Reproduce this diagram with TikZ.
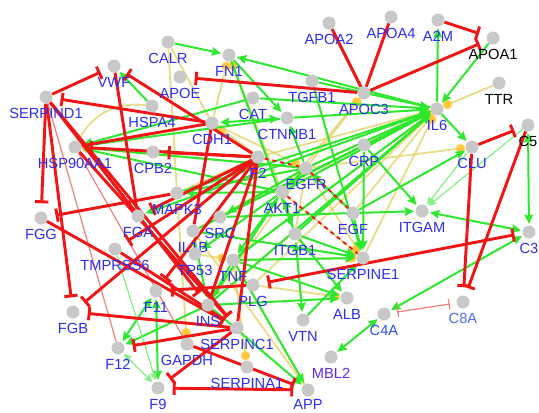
\documentclass[tikz,border=0pt]{standalone}
\usepackage{fontspec}
\setmainfont{Liberation Sans}
\usetikzlibrary{arrows.meta}
\definecolor{nodegray}{RGB}{200,200,200}
\definecolor{labblue}{RGB}{45,45,238}
\definecolor{c8ablue}{RGB}{75,110,245}
\definecolor{c4ablue}{RGB}{40,80,232}
\definecolor{mblviolet}{RGB}{95,40,228}
\definecolor{actgreen}{RGB}{45,232,45}
\definecolor{lightgreen}{RGB}{130,240,130}
\definecolor{inhred}{RGB}{240,22,22}
\definecolor{lightred}{RGB}{245,125,125}
\definecolor{bindyellow}{RGB}{226,210,100}
\definecolor{dotyellow}{RGB}{255,200,60}
\pgfdeclarelayer{edges}
\pgfsetlayers{edges,main}
\tikzset{
  gene/.style={circle, fill=nodegray, minimum size=9.75pt, inner sep=0pt},
  lab/.style={font=\fontsize{11}{13}\selectfont, text=labblue, inner sep=0pt},
  act/.style={draw=actgreen, line width=1.5pt, -{Stealth[length=7pt,width=6.5pt,inset=1pt,color=actgreen]}, shorten >=1pt},
  act2/.style={act, {Stealth[length=7pt,width=6.5pt,inset=1pt,color=actgreen]}-{Stealth[length=7pt,width=6.5pt,inset=1pt,color=actgreen]}, shorten <=1pt},
  lact/.style={draw=lightgreen, line width=0.9pt, -{Stealth[length=6pt,width=5.5pt,inset=1pt,color=lightgreen]}, shorten >=1pt},
  lact2/.style={lact, {Stealth[length=6pt,width=5.5pt,inset=1pt,color=lightgreen]}-{Stealth[length=6pt,width=5.5pt,inset=1pt,color=lightgreen]}, shorten <=1pt},
  inh/.style={draw=inhred, line width=2.2pt, -{Bar[width=10pt]}, shorten >=6pt},
  inh2/.style={inh, {Bar[width=10pt]}-{Bar[width=10pt]}, shorten <=6pt},
  rline/.style={draw=inhred, line width=2.2pt},
  linh2/.style={draw=lightred, line width=0.9pt, {Bar[width=8pt]}-{Bar[width=8pt]}, shorten >=5pt, shorten <=5pt},
  lrline/.style={draw=lightred, line width=0.9pt},
  rdash/.style={draw=inhred, line width=1.4pt, dashed},
  bind/.style={draw=bindyellow, line width=1.4pt, draw opacity=0.75, -{Circle[length=7pt,color=dotyellow]}},
  yline/.style={draw=bindyellow, line width=1.4pt, draw opacity=0.75}
}
\begin{document}
\begin{tikzpicture}[x=0.75pt, y=-0.75pt, label distance=3.4pt]
\useasboundingbox (0,0) rectangle (539,412);
% genes
\node [gene, label={[lab]below:CALR}](CALR) at (168,42){};
\node [gene, label={[lab]below:FN1}](FN1) at (229,55){};
\node [gene, label={[lab]below:VWF}](VWF) at (114,66){};
\node [gene, label={[lab]below:APOE}](APOE) at (180,77){};
\node [gene, label={[lab]below:SERPIND1}](SERPIND1) at (46,97){};
\node [gene, label={[lab]below:HSPA4}](HSPA4) at (152,106){};
\node [gene, label={[lab]below:CAT}](CAT) at (253,98){};
\node [gene, label={[lab]below:CDH1}](CDH1) at (212,123){};
\node [gene, label={[lab]below:HSP90AA1}](HSP90AA1) at (75,147){};
\node [gene, label={[lab]below:CPB2}](CPB2) at (153,152){};
\node [gene, label={[lab]below:F2}](F2) at (258,157){};
\node [gene, label={[lab]below:APOA2}](APOA2) at (329,23){};
\node [gene, label={[lab]below:APOA4}](APOA4) at (391,17){};
\node [gene, label={[lab]below:A2M}](A2M) at (438,20){};
\node [gene, label={[lab, text=black]below:APOA1}](APOA1) at (493,38){};
\node [gene, label={[lab]below:TGFB1}](TGFB1) at (312,81){};
\node [gene, label={[lab]below:APOC3}](APOC3) at (364,93){};
\node [gene, label={[lab]below:IL6}](IL6) at (437,109){};
\node [gene, label={[lab, text=black]below:TTR}](TTR) at (499,83){};
\node [gene, label={[lab, text=black]below:C5}](C5) at (528,125){};
\node [gene, label={[lab]below:CLU}](CLU) at (472,147){};
\node [gene, label={[lab]below:CTNNB1}](CTNNB1) at (287,118){};
\node [gene, label={[lab]below:CRP}](CRP) at (364,145){};
\node [gene, label={[lab]below:EGFR}](EGFR) at (306,168){};
\node [gene, label={[lab]below:MAPK3}](MAPK3) at (177,193){};
\node [gene, label={[lab]below:AKT1}](AKT1) at (282,192){};
\node [gene, label={[lab]below:SRC}](SRC) at (220,217){};
\node [gene, label={[lab]below:ITGB1}](ITGB1) at (295,234){};
\node [gene, label={[lab]below:FGA}](FGA) at (138,216){};
\node [gene, label={[lab]below:IL1B}](IL1B) at (193,231){};
\node [gene, label={[lab]below:FGG}](FGG) at (41,218){};
\node [gene, label={[lab]below:TMPRSS6}](TMPRSS6) at (115,249){};
\node [gene, label={[lab]below:TP53}](TP53) at (195,254){};
\node [gene, label={[lab]below:TNF}](TNF) at (233,260){};
\node [gene, label={[lab]below:PLG}](PLG) at (253,285){};
\node [gene, label={[lab]below:INS}](INS) at (208,305){};
\node [gene, label={[lab]below:F11}](F11) at (156,291){};
\node [gene, label={[lab]below:FGB}](FGB) at (73,312){};
\node [gene, label={[lab]below:F12}](F12) at (118,348){};
\node [gene, label={[lab]below:GAPDH}](GAPDH) at (187,344){};
\node [gene, label={[lab]below:F9}](F9) at (158,388){};
\node [gene, label={[lab]below:SERPINC1}](SERPINC1) at (237,328){};
\node [gene, label={[lab]below:SERPINA1}](SERPINA1) at (247,367){};
\node [gene, label={[lab]below:VTN}](VTN) at (303,320){};
\node [gene, label={[lab]below:ALB}](ALB) at (347,298){};
\node [gene, label={[lab, label distance=1.6pt]below:APP}](APP) at (308,390){};
\node [gene, label={[lab, text=mblviolet]below:MBL2}](MBL2) at (331,357){};
\node [gene, label={[lab, text=c4ablue]below:C4A}](C4A) at (384,314){};
\node [gene, label={[lab, text=c8ablue]below:C8A}](C8A) at (463,302){};
\node [gene, label={[lab]below:C3}](C3) at (529,232){};
\node [gene, label={[lab]below:ITGAM}](ITGAM) at (422,211){};
\node [gene, label={[lab]below:EGF}](EGF) at (353,213){};
\node [gene, label={[lab]below:SERPINE1}](SERPINE1) at (363,258){};
\begin{pgfonlayer}{edges}
% binding
\draw [bind](TTR) edge (IL6);
\draw [bind](EGFR) edge (CLU);
\draw [bind](EGFR) edge (IL6);
\draw [bind](AKT1) edge (IL6);
\draw [bind](ITGB1) edge (IL6);
\draw [bind](TNF) edge (IL6);
\draw [bind](INS) edge (IL6);
\draw [bind](SRC) edge (IL6);
\draw [bind](EGF) edge (IL6);
\draw [bind](PLG) edge (IL6);
\draw [bind](F2) edge (IL6);
\draw [bind](SERPINE1) edge (IL6);
\draw [bind](AKT1) edge (APOC3);
\draw [bind](EGFR) edge (APOC3);
\draw [bind](CDH1) edge (FN1);
\draw [bind](ITGB1) edge (FN1);
\draw [yline](CALR) edge (MAPK3);
\draw [yline](CALR) edge (CDH1);
\draw [yline](HSP90AA1) edge [bend left=35] (HSPA4);
\draw [bind](EGFR) edge (HSP90AA1);
\draw [bind, line width=2.5pt](F2) edge (CDH1);
\draw [bind](CDH1) edge (EGFR);
\draw [bind](TP53) edge (TNF);
\draw [bind](MAPK3) edge (GAPDH);
\draw [bind](TNF) edge (SERPINA1);
\draw [bind](PLG) edge (ALB);
\draw [bind](AKT1) edge (SERPINE1);
\draw [bind](EGFR) edge (SERPINE1);
\draw [bind](TNF) edge (SERPINE1);
\draw [bind](IL1B) edge (SERPINE1);
\draw [yline](IL1B) edge (APP);
\draw [yline](TNF) edge (APP);
\draw [yline](F2) edge (MAPK3);
\draw [yline](F2) edge (HSP90AA1);
\draw [yline](FN1) edge (AKT1);
\draw [yline](EGFR) edge (INS);
\draw [yline](EGFR) edge (IL1B);
\draw [yline](EGFR) edge (ITGB1);
% activation
\draw [act](CALR) edge (FN1);
\draw [act](IL6) edge (FN1);
\draw [act](APOA1) edge (IL6);
\draw [act](IL6) edge (A2M);
\draw [act](IL6) edge (CLU);
\draw [act](TGFB1) edge (IL6);
\draw [act](CRP) edge (ITGAM);
\draw [lact](C5) edge (ITGAM);
\draw [lact](CLU) edge (ITGAM);
\draw [act](SRC) edge (ITGAM);
\draw [act2](ITGAM) edge (C3);
\draw [act2](C5) edge (C3);
\draw [act2](C3) edge (C4A);
\draw [act2](C4A) edge (MBL2);
\draw [act2](F11) edge (F12);
\draw [act2](F11) edge (F9);
\draw [lact2](F12) edge (F9);
\draw [act](EGFR) edge (IL6);
\draw [act](AKT1) edge (IL6);
\draw [act](CTNNB1) edge (IL6);
\draw [act](SRC) edge (IL6);
\draw [act](MAPK3) edge (IL6);
\draw [act](TNF) edge (IL6);
\draw [act](IL1B) edge (IL6);
\draw [act](INS) edge (IL6);
\draw [act](ITGB1) edge (IL6);
\draw [act](CAT) edge (IL6);
\draw [act](CAT) edge (HSP90AA1);
\draw [act](CTNNB1) edge (HSP90AA1);
\draw [act](EGFR) edge (HSP90AA1);
\draw [act](AKT1) edge (HSP90AA1);
\draw [act](F2) edge (CPB2);
\draw [act2](CTNNB1) edge (CDH1);
\draw [act](EGFR) edge (MAPK3);
\draw [act](AKT1) edge (MAPK3);
\draw [act](EGF) edge (EGFR);
\draw [act](EGFR) edge (AKT1);
\draw [act](INS) edge (AKT1);
\draw [act](ITGB1) edge (AKT1);
\draw [act](EGFR) edge (SRC);
\draw [act](EGFR) edge (CTNNB1);
\draw [act](AKT1) edge (TP53);
\draw [act](AKT1) edge (TNF);
\draw [act](IL6) edge (FGA);
\draw [act](INS) edge (F12);
\draw [act2](ITGB1) edge (VTN);
\draw [act](INS) edge (ALB);
\draw [act](ITGB1) edge (ALB);
\draw [act](TNF) edge (ALB);
\draw [act](VTN) edge (SERPINE1);
\draw [act](TNF) edge (SERPINE1);
\draw [act](IL1B) edge (SERPINE1);
\draw [act](ITGB1) edge (SERPINE1);
\draw [act](EGF) edge (SERPINE1);
\draw [act](TGFB1) edge (SERPINE1);
\draw [act](CRP) edge (SERPINE1);
\draw [act](INS) edge (APP);
\draw [act](TNF) edge (APP);
\draw [act](EGF) edge (CLU);
\draw [act](TNF) edge (INS);
\draw [act](IL1B) edge (INS);
\draw [act](FN1) edge (ITGB1);
\draw [act](FN1) edge (CTNNB1);
\draw [act](HSPA4) edge (VWF);
\draw [lact](TMPRSS6) edge (F9);
% inhibition
\draw [inh](SERPIND1) edge (VWF);
\draw [inh](F2) edge (VWF);
\draw [inh](CDH1) edge (SERPIND1);
\draw [inh](SERPIND1) edge (FGG);
\draw [inh](SERPIND1) edge (FGB);
\draw [inh](SERPIND1) edge (SERPINC1);
\draw [inh](SERPIND1) edge (INS);
\draw [lrline](SERPIND1) edge (F12);
\draw [lrline](HSP90AA1) edge (GAPDH);
\draw [rline](APOC3) edge (APOA2);
\draw [rline](APOC3) edge (APOA4);
\draw [inh](APOC3) edge (APOE);
\draw [inh](APOC3) edge (APOA1);
\draw [inh](A2M) edge (APOA1);
\draw [inh](CLU) edge (C5);
\draw [inh](CLU) edge (C8A);
\draw [inh](C5) edge (C8A);
\draw [linh2](C8A) edge (C4A);
\draw [inh2](C3) edge (PLG);
\draw [inh](F2) edge (FGB);
\draw [inh](MAPK3) edge (FGG);
\draw [inh](SERPINC1) edge (F9);
\draw [inh](SERPINC1) edge (F12);
\draw [inh](F2) edge (F11);
\draw [inh](PLG) edge (F11);
\draw [inh](SERPINC1) edge (FGB);
\draw [inh2](F9) edge (APP);
\draw [inh](GAPDH) edge (APP);
\draw [inh](F2) edge (FGA);
\draw [inh](F2) edge (HSP90AA1);
\draw [rline](CDH1) edge (HSP90AA1);
\draw [inh](F2) edge (CPB2);
\draw [inh](F2) edge (TMPRSS6);
\draw [rline](F2) edge (SERPINC1);
\draw [rline](F2) edge (INS);
\draw [inh](HSP90AA1) edge (SERPINC1);
\draw [inh](FGG) edge (SERPINC1);
\draw [inh](TMPRSS6) edge (SERPINC1);
\draw [rline](VWF) edge (FGA);
\draw [rline](CDH1) edge (IL1B);
\draw [rdash](F2) edge (EGFR);
\draw [rdash](EGFR) edge (EGF);
\draw [rdash](AKT1) edge (SERPINE1);
\end{pgfonlayer}
\end{tikzpicture}
\end{document}
